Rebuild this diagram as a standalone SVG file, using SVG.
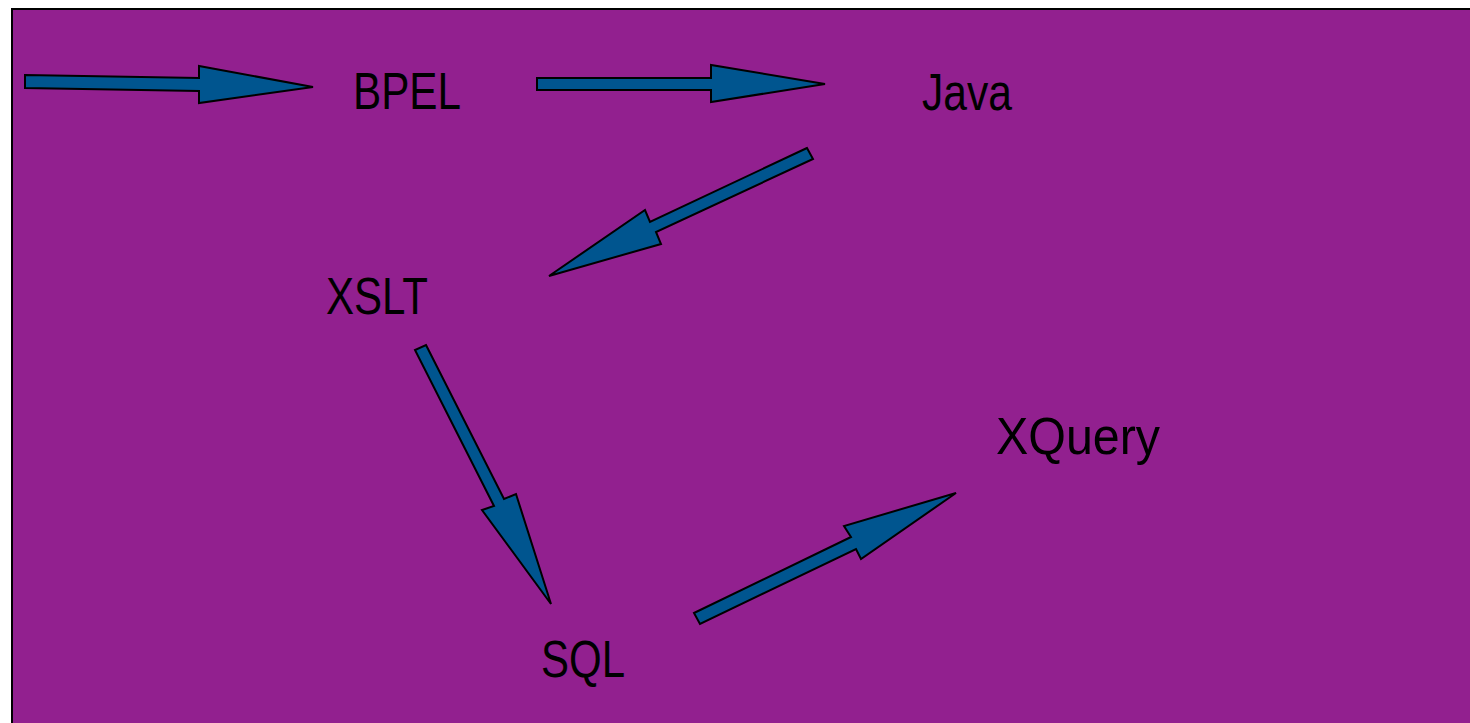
<svg xmlns="http://www.w3.org/2000/svg" width="1470" height="723" viewBox="0 0 1470 723">
<style>
.bg{fill:#92208f;stroke:#000;stroke-width:2}
.arrow{fill:#00558f;stroke:#000;stroke-width:2;stroke-linejoin:miter}
.label{font-family:"Liberation Sans",Arial,sans-serif;font-size:52px;fill:#000}
</style>
<rect class="bg" x="12" y="9" width="1480" height="730"/>
<g id="connectors">
<polygon class="arrow" points="25,75 199,78 199,66 313,87 199,103 199,91 25,88"/>
<polygon class="arrow" points="537,78 711,78 711,65 825,84 711,102 711,90 537,90"/>
<polygon class="arrow" points="807,148 650,222 645,210 549,276 661,244 656,232 813,159"/>
<polygon class="arrow" points="426,345 504,499 516,494 551,604 482,510 494,506 415,350"/>
<polygon class="arrow" points="694,613 851,537 844,526 956,493 861,559 856,549 700,624"/>
</g>
<g id="node-bpel"><text class="label" x="353" y="109" textLength="108" lengthAdjust="spacingAndGlyphs">BPEL</text></g>
<g id="node-java"><text class="label" x="922" y="110" textLength="90" lengthAdjust="spacingAndGlyphs">Java</text></g>
<g id="node-xslt"><text class="label" x="326" y="314" textLength="102" lengthAdjust="spacingAndGlyphs">XSLT</text></g>
<g id="node-sql"><text class="label" x="541" y="677" textLength="84" lengthAdjust="spacingAndGlyphs">SQL</text></g>
<g id="node-xquery"><text class="label" x="996" y="454" textLength="164" lengthAdjust="spacingAndGlyphs">XQuery</text></g>
</svg>
